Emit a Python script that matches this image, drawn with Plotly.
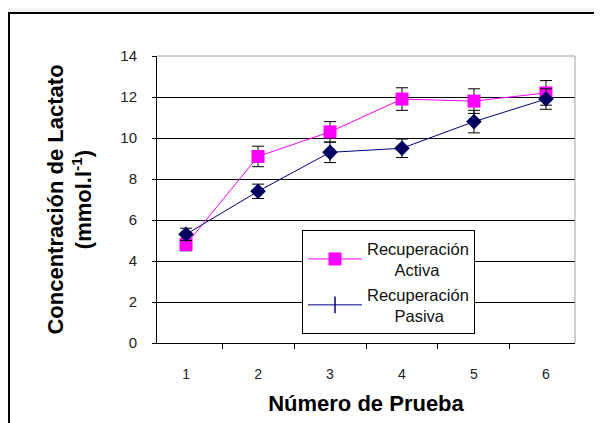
import plotly.graph_objects as go

categorias = ["1", "2", "3", "4", "5", "6"]
activa = [4.8, 9.1, 10.3, 11.9, 11.8, 12.2]
activa_err = [0.3, 0.5, 0.5, 0.55, 0.6, 0.6]
pasiva = [5.3, 7.4, 9.3, 9.5, 10.8, 11.9]
pasiva_err = [0.3, 0.35, 0.5, 0.45, 0.55, 0.5]
y_ticks = [0, 2, 4, 6, 8, 10, 12, 14]

# page has an 8px body margin; design in page pixels, convert to figure pixels
OFF = 8
W, H = 602, 423
L, T = 157 - OFF, 56 - OFF
R = W - (575 - OFF)
B = H - (343 - OFF)
pw, ph = W - L - R, H - T - B

def px(x_page):
    return (x_page - OFF - L) / pw

def py(y_page):
    return (H - B - (y_page - OFF)) / ph

NB = "\u00a0"
fig = go.Figure()

fig.add_trace(go.Scatter(
    x=categorias, y=activa, mode="lines+markers",
    line=dict(color="#ff00ff", width=1),
    marker=dict(symbol="square", size=13, color="#ff00ff"),
    error_y=dict(type="data", array=activa_err, color="black", thickness=1, width=6),
    name="Recuperación<br>" + NB * 6 + "Activa",
    legendgroup="a",
))
fig.add_trace(go.Scatter(
    x=categorias, y=pasiva, mode="lines+markers",
    line=dict(color="#000080", width=1),
    marker=dict(symbol="diamond", size=12, color="#00005e"),
    error_y=dict(type="data", array=pasiva_err, color="black", thickness=1, width=6),
    showlegend=False, legendgroup="p",
))
fig.add_trace(go.Scatter(
    x=[None], y=[None], mode="lines+markers",
    line=dict(color="#000080", width=1),
    marker=dict(symbol="line-ns", size=12, line=dict(color="#000080", width=1.5)),
    name="Recuperación<br>" + NB * 6 + "Pasiva",
    legendgroup="p",
))

fig.update_layout(
    width=W, height=H,
    margin=dict(l=L, r=R, t=T, b=B),
    paper_bgcolor="#f2f2f2",
    plot_bgcolor="white",
    font=dict(family="Liberation Sans, Arial", size=15, color="#222"),
    legend=dict(
        x=px(302), y=py(230), xanchor="left", yanchor="top",
        bgcolor="white", bordercolor="black", borderwidth=1,
        font=dict(family="Liberation Sans, Arial", size=16.5, color="#111"),
        tracegroupgap=0, itemwidth=54,
    ),
    xaxis=dict(
        type="category", tickson="boundaries",
        showline=True, linecolor="black", linewidth=1,
        ticks="outside", ticklen=5, tickcolor="black",
        showgrid=False, tickfont=dict(size=14),
        ticklabelstandoff=18,
        title=dict(text="<b>Número de Prueba</b>",
                   font=dict(family="Liberation Sans, Arial", size=22, color="black"),
                   standoff=14),
    ),
    yaxis=dict(
        range=[0, 14], tickvals=y_ticks,
        showline=True, linecolor="black", linewidth=1,
        ticks="outside", ticklen=4, tickcolor="black",
        showgrid=True, gridcolor="black", gridwidth=1,
        zeroline=False, tickfont=dict(size=15),
        ticklabelstandoff=12,
        title=dict(text="<b>Concentración de Lactato<br>(mmol.l<sup>-1</sup>)</b>",
                   font=dict(family="Liberation Sans, Arial", size=22, color="black"),
                   standoff=22),
    ),
    shapes=[
        dict(type="rect", xref="paper", yref="paper",
             x0=px(9), x1=px(660), y0=py(480), y1=py(13),
             fillcolor="white", line=dict(color="black", width=2), layer="below"),
        dict(type="path", xref="paper", yref="paper",
             path="M 0,1 L 1,1 L 1,0", line=dict(color="#a0a0a0", width=1), layer="above"),
    ],
)

fig.write_html("out.html")
